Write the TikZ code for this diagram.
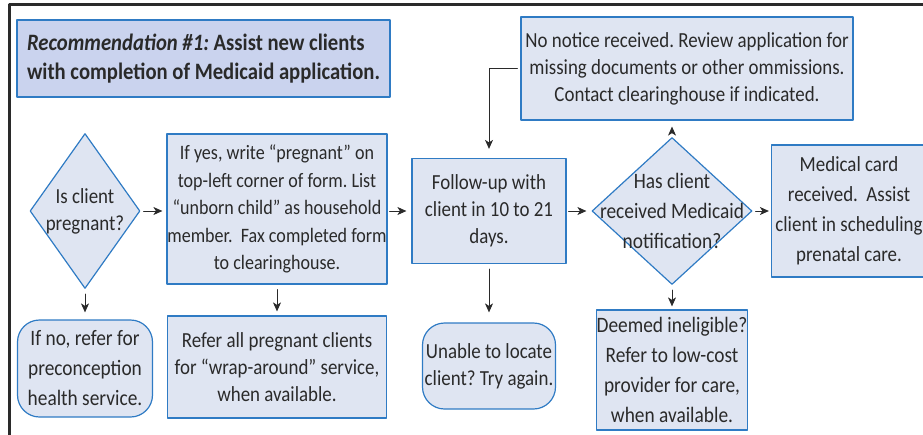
\documentclass[tikz,border=0pt]{standalone}
\usepackage{fontspec}
\setmainfont[FakeStretch=0.88]{Carlito}
\usetikzlibrary{arrows.meta,shapes.geometric}
\definecolor{boxfill}{HTML}{DFE5F2}
\definecolor{titlefill}{HTML}{CAD3EE}
\definecolor{boxline}{HTML}{2F7BC4}
\definecolor{ink}{HTML}{2A2A2A}
\frenchspacing
\begin{document}
\begin{tikzpicture}[x=1pt,y=-1pt,>={Stealth[length=9pt,width=8pt,inset=2.5pt]},line cap=round,line join=round,
  every node/.style={text=ink,font=\fontsize{21.5}{27}\selectfont,align=center,inner sep=0pt},
  big/.style={font=\fontsize{22}{30}\selectfont},
  stepbox/.style={draw=boxline,fill=boxfill,line width=1.2pt},
  endbox/.style={stepbox,rounded corners=22pt},
  ask/.style={stepbox,shape=diamond,inner sep=-25pt},
  flow/.style={->,draw=ink,line width=1pt,shorten <=3pt,shorten >=4pt}]
\useasboundingbox (0,0) rectangle (923,434);
\clip (0,0) rectangle (923,434);
\draw[line width=3pt,ink] (9,450) |- (940,4);
\node[stepbox,fill=titlefill,minimum width=373pt,minimum height=77pt,align=left,font=\bfseries\fontsize{23.5}{29}\selectfont] (title) at (203.5,58.5) {\textit{Recommendation \#1:} Assist new clients\\with completion of Medicaid application.};
\node[ask,minimum width=110pt,minimum height=155pt] (pregnant) at (85,211) {Is client\\pregnant?};
\node[stepbox,font=\fontsize{20.5}{27.5}\selectfont,minimum width=220pt,minimum height=150pt] (yes) at (277,209) {If yes, write “pregnant” on\\top-left corner of form. List\\“unborn child” as household\\member.\ \ Fax completed form\\to clearinghouse.};
\node[endbox,big,minimum width=135pt,minimum height=97pt] (noref) at (85,368.5) {If no, refer for\\preconception\\health service.};
\node[stepbox,minimum width=219pt,minimum height=102pt] (wrap) at (277,367) {Refer all pregnant clients\\for “wrap-around” service,\\when available.};
\node[stepbox,minimum width=154pt,minimum height=105pt] (follow) at (489,211) {Follow-up with\\client in 10 to 21\\days.};
\node[endbox,minimum width=133pt,minimum height=86pt] (unable) at (489,366) {Unable to locate\\client? Try again.};
\node[stepbox,minimum width=332pt,minimum height=103pt] (notice) at (687,68.5) {No notice received. Review application for\\missing documents or other ommissions.\\Contact clearinghouse if indicated.};
\node[ask,big,minimum width=160pt,minimum height=147pt] (medicaid) at (672,211) {Has client\\received Medicaid\\notification?};
\node[stepbox,font=\fontsize{21.5}{30}\selectfont,minimum width=155pt,minimum height=132pt] (card) at (849,211) {Medical card\\received.\ \ Assist\\client in scheduling\\prenatal care.};
\node[stepbox,big,minimum width=150pt,minimum height=120pt] (inelig) at (672,370) {Deemed ineligible?\\Refer to low-cost\\provider for care,\\when available.};
\draw[flow] (pregnant.east) -- (pregnant.east -| yes.west);
\draw[flow,shorten <=2pt,shorten >=5pt] (yes.east |- follow.west) -- (follow.west);
\draw[flow,shorten <=2pt,shorten >=5pt] (follow.east) -- (medicaid.west);
\draw[flow,shorten >=2pt] (medicaid.east) -- (card.west);
\draw[flow,shorten <=5pt,shorten >=7pt] (pregnant.south) -- (noref.north);
\draw[flow,shorten <=5pt] (yes.south) -- (wrap.north);
\draw[flow,shorten <=5pt,shorten >=10pt] (follow.south) -- (unable.north);
\draw[flow,shorten <=5pt,shorten >=3pt] (medicaid.south) -- (inelig.north);
\draw[flow,shorten <=4pt,shorten >=6pt] (medicaid.north) -- (medicaid.north |- notice.south);
\draw[flow,shorten >=9pt] (notice.west) -| (follow.north);
\end{tikzpicture}
\end{document}
